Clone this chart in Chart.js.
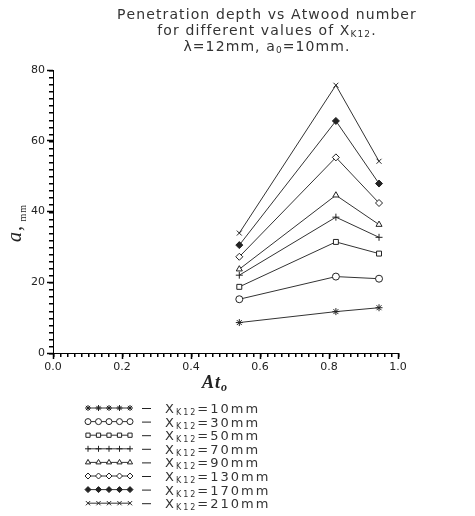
<!DOCTYPE html>
<html><head><meta charset="utf-8">
<script src="https://cdn.jsdelivr.net/npm/chart.js@4/dist/chart.umd.min.js"></script>
<style>html,body{margin:0;padding:0;background:#fff}#wrap{width:475px;height:516px}</style>
</head><body><div id="wrap"><canvas id="c" width="475" height="516"></canvas></div>
<script>
// ---- data ----
const atwood = [0.54, 0.82, 0.945];
const xk12Labels = ['10mm','30mm','50mm','70mm','90mm','130mm','170mm','210mm'];
const s10  = [8.6, 11.7, 12.8];
const s30  = [15.2, 21.6, 21.0];
const s50  = [18.7, 31.4, 28.1];
const s70  = [22.0, 38.4, 32.7];
const s90  = [23.7, 44.6, 36.3];
const s130 = [27.2, 55.3, 42.4];
const s170 = [30.5, 65.6, 47.9];
const s210 = [33.9, 75.7, 54.2];
const seriesList = [s10, s30, s50, s70, s90, s130, s170, s210];
const xMin = 0, xMax = 1.0, xStep = 0.2, xMinor = 0.02;
const yMin = 0, yMax = 80, yStep = 20, yMinor = 2;

// ---- styles ----
const pointStyles = ['star','circle','rect','cross','triangle','rectRot','rectRot','crossRot'];
const filledPts = [false,false,false,false,false,false,true,false];
const INK = '#222';

const datasets = seriesList.map((s, i) => ({
  label: xk12Labels[i],
  data: atwood.map((x, j) => ({x: x, y: s[j]})),
  borderColor: '#333',
  borderWidth: 1,
  pointStyle: pointStyles[i],
  pointRadius: 3.5,
  pointBorderWidth: 1,
  pointBorderColor: INK,
  pointBackgroundColor: filledPts[i] ? INK : '#fff',
  tension: 0
}));

function spacedWidth(ctx, parts, sp) {
  let w = 0;
  for (const p of parts) { ctx.font = p.font; for (const ch of p.t) w += ctx.measureText(ch).width + sp; }
  return w;
}
function drawSpaced(ctx, parts, x, y, sp) {
  for (const p of parts) {
    ctx.font = p.font;
    for (const ch of p.t) { ctx.fillText(ch, x, y + (p.dy || 0)); x += ctx.measureText(ch).width + sp; }
  }
  return x;
}

const decor = {
  id: 'decor',
  afterDraw(chart) {
    const ctx = chart.ctx;
    const xs = chart.scales.x, ys = chart.scales.y;
    ctx.save();
    // minor ticks
    const b = Math.round(ys.getPixelForValue(0));
    const l = Math.round(xs.getPixelForValue(0));
    const nx = Math.round((xMax - xMin) / xMinor);
    const ny = Math.round((yMax - yMin) / yMinor);
    ctx.fillStyle = '#000';
    for (let k = 0; k <= nx; k++) {
      const px = Math.round(xs.getPixelForValue(xMin + k * xMinor));
      ctx.fillRect(px, b, 1.5, 4);
    }
    for (let k = 0; k <= ny; k++) {
      const py = Math.round(ys.getPixelForValue(yMin + k * yMinor));
      ctx.fillRect(l - 4, py, 4, 1.5);
    }

    ctx.fillStyle = INK; ctx.textBaseline = 'alphabetic'; ctx.textAlign = 'left';
    // title
    const F = '14px "DejaVu Sans"', FS = '9px "DejaVu Sans"';
    const sp = 1.1, cx = 267;
    const lines = [
      {y: 19, parts: [{t: 'Penetration depth vs Atwood number', font: F}]},
      {y: 35, parts: [{t: 'for different values of X', font: F}, {t: 'K12', font: FS, dy: 2}, {t: '.', font: F}]},
      {y: 51, parts: [{t: 'λ=12mm, a', font: F}, {t: '0', font: FS, dy: 2}, {t: '=10mm.', font: F}]}
    ];
    ctx.fillStyle = '#333';
    for (const ln of lines) {
      const w = spacedWidth(ctx, ln.parts, sp);
      drawSpaced(ctx, ln.parts, cx - w / 2, ln.y, sp);
    }
    ctx.fillStyle = INK;
    // x axis title
    drawSpaced(ctx, [{t: 'At', font: 'italic bold 18px "Liberation Serif"'}, {t: 'o', font: 'italic bold 12px "Liberation Serif"', dy: 3}], 202, 388, 1);
    // y axis title (rotated)
    ctx.save();
    ctx.translate(21, 242);
    ctx.rotate(-Math.PI / 2);
    drawSpaced(ctx, [{t: 'a,', font: 'italic 20px "Liberation Serif"'}, {t: ' ', font: '8px "DejaVu Sans"'}, {t: 'mm', font: '10px "Liberation Serif"', dy: 5}], 0, 0, 1);
    ctx.restore();

    // legend
    const LF = '13px "DejaVu Sans"', LFS = '8px "DejaVu Sans"';
    chart.data.datasets.forEach((ds, i) => {
      const y = 408 + i * 13.6;
      ctx.strokeStyle = '#333'; ctx.lineWidth = 1;
      ctx.beginPath(); ctx.moveTo(88, y); ctx.lineTo(130, y); ctx.stroke();
      for (let k = 0; k < 5; k++) {
        const px = 88 + k * 10.5;
        ctx.strokeStyle = INK; ctx.fillStyle = ds.pointBackgroundColor; ctx.lineWidth = 1;
        Chart.helpers.drawPoint(ctx, {pointStyle: ds.pointStyle, radius: 3, borderWidth: 1, rotation: 0}, px, y);
      }
      ctx.strokeStyle = INK;
      ctx.beginPath(); ctx.moveTo(142, y + 0.5); ctx.lineTo(151, y + 0.5); ctx.stroke();
      ctx.fillStyle = '#333';
      drawSpaced(ctx, [{t: 'X', font: LF}, {t: 'K12', font: LFS, dy: 2}, {t: '=' + xk12Labels[i], font: LF}], 165, y + 5, 2.0);
    });
    ctx.restore();
  }
};

new Chart(document.getElementById('c'), {
  type: 'line',
  data: {datasets: datasets},
  options: {
    responsive: false,
    animation: false,
    devicePixelRatio: 1,
    layout: {padding: {top: 70, right: 77, left: 0, bottom: 0}},
    plugins: {legend: {display: false}, title: {display: false}, tooltip: {enabled: false}},
    scales: {
      x: {
        type: 'linear', min: xMin, max: xMax,
        ticks: {stepSize: xStep, callback: v => Number(v).toFixed(1), color: INK, font: {family: 'DejaVu Sans', size: 11}, padding: 2, maxRotation: 0},
        grid: {drawOnChartArea: false, drawTicks: true, tickLength: 6, tickWidth: 1.5, tickColor: '#000', color: '#000'},
        border: {display: true, color: '#000', width: 1},
        afterFit: s => { s.height = 163; }
      },
      y: {
        min: yMin, max: yMax,
        ticks: {stepSize: yStep, color: INK, font: {family: 'DejaVu Sans', size: 11}, padding: 2},
        grid: {drawOnChartArea: false, drawTicks: true, tickLength: 6, tickWidth: 1.5, tickColor: '#000', color: '#000'},
        border: {display: true, color: '#000', width: 1},
        afterFit: s => { s.width = 53; }
      }
    }
  },
  plugins: [decor]
});
</script>
</body></html>
